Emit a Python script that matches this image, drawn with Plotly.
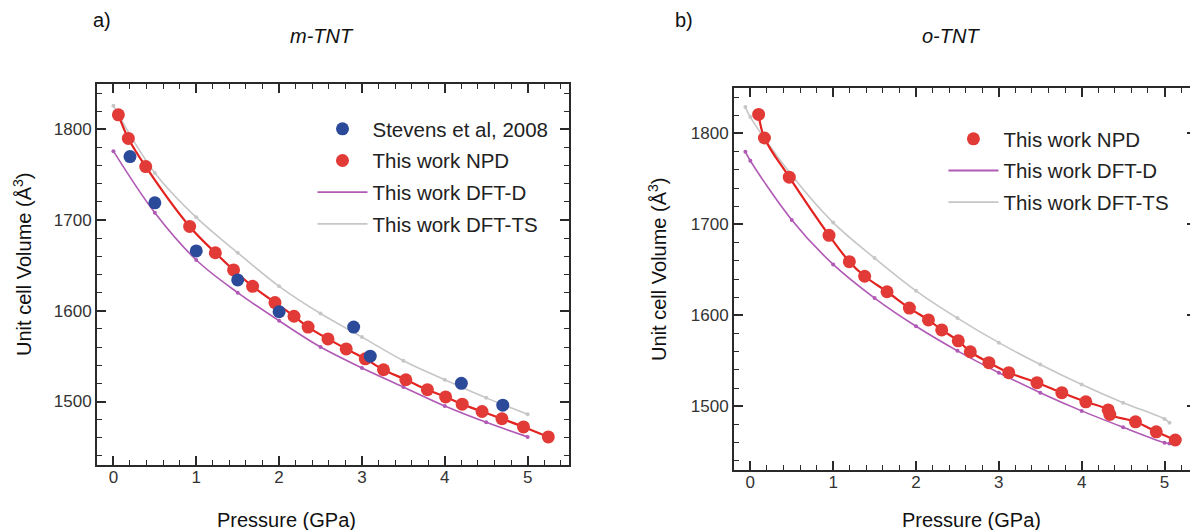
import plotly.graph_objects as go

# ---------------- data ----------------
# m-TNT
npd_m_p = [0.06, 0.18, 0.39, 0.92, 1.23, 1.45, 1.68, 1.95, 2.18, 2.35, 2.59, 2.81, 3.04,
           3.26, 3.53, 3.79, 4.01, 4.21, 4.45, 4.69, 4.95, 5.25]
npd_m_v = [1816, 1790, 1759, 1693, 1664, 1645, 1627, 1609, 1594, 1582, 1569, 1558, 1547,
           1535, 1524, 1513, 1505, 1497, 1489, 1481, 1472, 1461]
stevens_p = [0.2, 0.5, 1.0, 1.5, 2.0, 2.9, 3.1, 4.2, 4.7]
stevens_v = [1770, 1719, 1666, 1634, 1599, 1582, 1550, 1520, 1496]
dft_p = [0.0, 0.5, 1.0, 1.5, 2.0, 2.5, 3.0, 3.5, 4.0, 4.5, 5.0]
dftd_m_v = [1776, 1708, 1656, 1620, 1589, 1560, 1537, 1516, 1495, 1477, 1461]
dftts_m_v = [1826, 1752, 1703, 1664, 1627, 1597, 1571, 1545, 1524, 1504, 1486]

# o-TNT
npd_o_p = [0.10, 0.17, 0.47, 0.95, 1.195, 1.38, 1.65, 1.92, 2.15, 2.31, 2.51, 2.655, 2.88,
           3.12, 3.46, 3.76, 4.05, 4.32, 4.34, 4.65, 4.90, 5.13]
npd_o_v = [1821, 1795, 1752, 1688, 1659, 1643, 1626, 1608, 1595, 1584, 1572, 1560, 1548,
           1537, 1526, 1515, 1505, 1496, 1491, 1483, 1472, 1463]
dft_o_line_p = [-0.06, 0.0, 0.5, 1.0, 1.5, 2.0, 2.5, 3.0, 3.5, 4.0, 4.5, 5.0, 5.06]
dftd_o_v = [1780, 1770, 1705, 1656, 1619, 1588, 1561, 1537, 1515, 1495, 1477, 1460, 1459]
dftts_o_v = [1829, 1818, 1754, 1702, 1663, 1627, 1597, 1570, 1546, 1524, 1504, 1486, 1482]

# axis tick spacing
x_major, x_minor = 1, 0.2
y_major, y_minor = 100, 20

# ---------------- styles ----------------
RED = "#e23a36"
RED_LINE = "#e2231f"
BLUE = "#2c4a9a"
PURPLE = "#b059b5"
GREY = "#c6c6c6"
AX = "#2a2a2a"
FONT = "Liberation Sans, Arial, sans-serif"

# The page body has an 8 px default margin: lay out in screen pixels and shift.
OFF = 8
W, H = 1198 - OFF, 530 - OFF

fig = go.Figure()


def px_x(v):
    return (v - OFF) / W


def px_y(v):
    return 1 - (v - OFF) / H


def add_dft(x, y, name, color, xa, ya, leg, rank):
    fig.add_trace(go.Scatter(x=x, y=y, mode="lines+markers", showlegend=False,
                             line=dict(color=color, width=1.6, shape="spline"),
                             marker=dict(size=4, color=color),
                             xaxis=xa, yaxis=ya, name=name))
    fig.add_trace(go.Scatter(x=[None], y=[None], mode="lines", name=name,
                             line=dict(color=color, width=1.8), legendgroup=leg + name,
                             legendrank=rank, xaxis=xa, yaxis=ya, legend=leg))


# ----- panel a -----
add_dft(dft_p, dftts_m_v, "This work DFT-TS", GREY, "x", "y", "legend", 4)
add_dft(dft_p, dftd_m_v, "This work DFT-D", PURPLE, "x", "y", "legend", 3)
fig.add_trace(go.Scatter(x=npd_m_p, y=npd_m_v, mode="lines", showlegend=False,
                         line=dict(color=RED_LINE, width=2.2, shape="spline"),
                         xaxis="x", yaxis="y", hoverinfo="skip"))
fig.add_trace(go.Scatter(x=npd_m_p, y=npd_m_v, mode="markers", name="This work NPD",
                         marker=dict(size=13, color=RED), legendgroup="a_npd", legendrank=2,
                         xaxis="x", yaxis="y", legend="legend"))
fig.add_trace(go.Scatter(x=stevens_p, y=stevens_v, mode="markers", name="Stevens et al, 2008",
                         marker=dict(size=13, color=BLUE), legendgroup="a_stevens", legendrank=1,
                         xaxis="x", yaxis="y", legend="legend"))

# ----- panel b -----
add_dft(dft_o_line_p, dftts_o_v, "This work DFT-TS", GREY, "x2", "y2", "legend2", 4)
add_dft(dft_o_line_p, dftd_o_v, "This work DFT-D", PURPLE, "x2", "y2", "legend2", 3)
fig.add_trace(go.Scatter(x=npd_o_p, y=npd_o_v, mode="lines", showlegend=False,
                         line=dict(color=RED_LINE, width=2.2, shape="spline"),
                         xaxis="x2", yaxis="y2", hoverinfo="skip"))
fig.add_trace(go.Scatter(x=npd_o_p, y=npd_o_v, mode="markers", name="This work NPD",
                         marker=dict(size=13, color=RED), legendgroup="b_npd", legendrank=2,
                         xaxis="x2", yaxis="y2", legend="legend2"))

axis_common = dict(
    showline=True, linecolor=AX, linewidth=1.5, mirror="allticks",
    ticks="inside", ticklen=9, tickwidth=1.5, tickcolor=AX,
    showgrid=False, zeroline=False, tickmode="linear",
    tickfont=dict(family=FONT, size=17, color="#333333"),
)
xaxis_common = dict(axis_common, tick0=0, dtick=x_major,
                    minor=dict(ticks="inside", tick0=0, dtick=x_minor, ticklen=5, tickwidth=1.3,
                               tickcolor=AX, showgrid=False))
yaxis_common = dict(axis_common, tick0=1500, dtick=y_major,
                    minor=dict(ticks="inside", tick0=1500, dtick=y_minor, ticklen=5, tickwidth=1.3,
                               tickcolor=AX, showgrid=False))

leg_common = dict(xanchor="left", yanchor="top", bgcolor="rgba(0,0,0,0)",
                  traceorder="grouped", font=dict(family=FONT, size=20.5, color="#222222"),
                  itemwidth=50, tracegroupgap=2)

fig.update_layout(
    width=W, height=H,
    margin=dict(l=0, r=0, t=0, b=0),
    paper_bgcolor="white", plot_bgcolor="white",
    font=dict(family=FONT, color="#222222"),
    xaxis=dict(xaxis_common, domain=[px_x(97), px_x(570)], range=[-0.2, 5.5], anchor="y",
               ticklabelstandoff=-4),
    yaxis=dict(yaxis_common, domain=[px_y(465), px_y(84)], range=[1430, 1850], anchor="x"),
    xaxis2=dict(xaxis_common, domain=[px_x(735), 1.0], range=[-0.2, 5.38], anchor="y2",
                ticklabelstandoff=-4),
    yaxis2=dict(yaxis_common, domain=[px_y(470), px_y(88)], range=[1430, 1850], anchor="x2"),
    legend=dict(leg_common, x=px_x(313), y=px_y(109)),
    legend2=dict(leg_common, x=px_x(945), y=px_y(119)),
    showlegend=True,
)

ann_font = dict(family=FONT, size=20, color="#111111")
annotations = [
    dict(text="a)", x=px_x(91), y=px_y(20), xanchor="left", yanchor="middle", font=ann_font),
    dict(text="<i>m-TNT</i>", x=px_x(323), y=px_y(36), xanchor="center", yanchor="middle", font=ann_font),
    dict(text="b)", x=px_x(674), y=px_y(20), xanchor="left", yanchor="middle", font=ann_font),
    dict(text="<i>o-TNT</i>", x=px_x(953), y=px_y(36), xanchor="center", yanchor="middle", font=ann_font),
    dict(text="Pressure (GPa)", x=px_x(287), y=px_y(520), xanchor="center", yanchor="middle", font=ann_font),
    dict(text="Pressure (GPa)", x=px_x(973), y=px_y(520), xanchor="center", yanchor="middle", font=ann_font),
    dict(text="Unit cell Volume (Å<sup>3</sup>)", x=px_x(23), y=px_y(264), xanchor="center",
         yanchor="middle", textangle=-90, font=ann_font),
    dict(text="Unit cell Volume (Å<sup>3</sup>)", x=px_x(658), y=px_y(269), xanchor="center",
         yanchor="middle", textangle=-90, font=ann_font),
]
for a in annotations:
    a.update(xref="paper", yref="paper", showarrow=False)
fig.update_layout(annotations=annotations)

fig.write_html("out.html")
